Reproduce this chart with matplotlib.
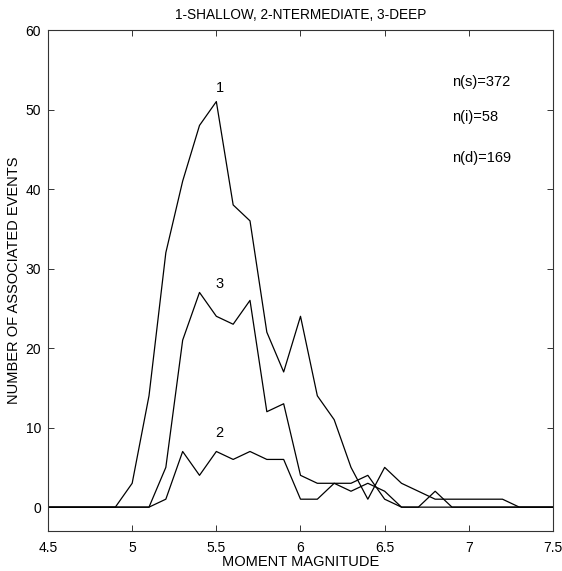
import matplotlib
matplotlib.use("Agg")
import matplotlib.pyplot as plt

plt.rcParams['font.family'] = ['Liberation Sans', 'DejaVu Sans']

# Moment magnitude bins (0.1 steps)
magnitude = [4.5, 4.6, 4.7, 4.8, 4.9, 5.0, 5.1, 5.2, 5.3, 5.4, 5.5, 5.6, 5.7,
             5.8, 5.9, 6.0, 6.1, 6.2, 6.3, 6.4, 6.5, 6.6, 6.7, 6.8, 6.9, 7.0,
             7.1, 7.2, 7.3, 7.4, 7.5]

# Number of associated events per bin
shallow = [0, 0, 0, 0, 0, 3, 14, 32, 41, 48, 51, 38, 36, 22, 17, 24, 14, 11,
           5, 1, 5, 3, 2, 1, 1, 1, 1, 1, 0, 0, 0]
intermediate = [0, 0, 0, 0, 0, 0, 0, 1, 7, 4, 7, 6, 7, 6, 6, 1, 1, 3, 2, 3,
                2, 0, 0, 2, 0, 0, 0, 0, 0, 0, 0]
deep = [0, 0, 0, 0, 0, 0, 0, 5, 21, 27, 24, 23, 26, 12, 13, 4, 3, 3, 3, 4,
        1, 0, 0, 0, 0, 0, 0, 0, 0, 0, 0]

counts_text = ["n(s)=372", "n(i)=58", "n(d)=169"]
x_ticks = [4.5, 5, 5.5, 6, 6.5, 7, 7.5]
x_tick_labels = ["4.5", "5", "5.5", "6", "6.5", "7", "7.5"]
y_ticks = [0, 10, 20, 30, 40, 50, 60]

fig = plt.figure(figsize=(5.62, 5.71), dpi=100)
ax = fig.add_axes([48 / 562, 1 - 531 / 571, (553 - 48) / 562, (531 - 30) / 571])

for series in (shallow, intermediate, deep):
    ax.plot(magnitude, series, color='black', lw=0.9)

ax.set_xlim(4.5, 7.5)
ax.set_ylim(-3, 60)
ax.set_xticks(x_ticks)
ax.set_xticklabels(x_tick_labels)
ax.set_yticks(y_ticks)
ax.tick_params(direction='in', length=4, width=0.7, top=True, right=True,
               labelsize=10, color='#333333')
ax.tick_params(axis='x', pad=7)
ax.tick_params(axis='y', pad=5)
for sp in ax.spines.values():
    sp.set_linewidth(0.8)
    sp.set_color('#333333')

# Curve labels placed above their peaks
ax.text(5.52, 52.7, "1", fontsize=10.5, ha='center', va='center')
ax.text(5.52, 28.0, "3", fontsize=10.5, ha='center', va='center')
ax.text(5.52, 9.3, "2", fontsize=10.5, ha='center', va='center')

for txt, yv in zip(counts_text, [53.5, 49.1, 43.9]):
    ax.text(6.9, yv, txt, fontsize=10.5, ha='left', va='center')

ax.set_title("1-SHALLOW, 2-NTERMEDIATE, 3-DEEP", fontsize=9.8, pad=8)
ax.set_xlabel("MOMENT MAGNITUDE", fontsize=10.5, labelpad=0)
ax.set_ylabel("NUMBER OF ASSOCIATED EVENTS", fontsize=10.5, labelpad=3)

fig.savefig("out.png", dpi=100)
